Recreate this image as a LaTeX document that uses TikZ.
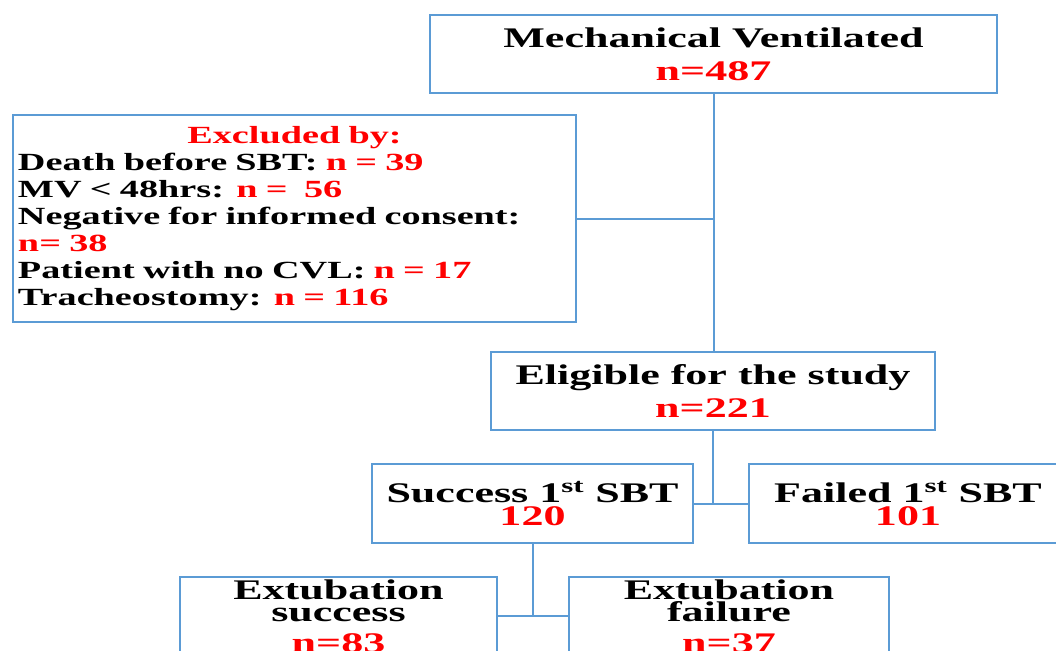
\documentclass[tikz,border=0pt]{standalone}
\usepackage{fontspec}
\setmainfont{Liberation Serif}[FakeStretch=1.55]
\usepackage{xcolor}
\usetikzlibrary{positioning}
\definecolor{lineblue}{RGB}{91,155,213}
\newcommand{\rd}[1]{\textcolor{red}{#1}}

\begin{document}
\begin{tikzpicture}[x=0.75pt,y=-0.75pt,
    box/.style={draw=lineblue,line width=1.5pt,align=center,inner sep=0pt},
    big/.style={font=\fontsize{21.3}{24.75}\selectfont\bfseries},
    mid/.style={font=\fontsize{21.3}{17}\selectfont\bfseries},
    small/.style={font=\fontsize{18.5}{20.25}\selectfont\bfseries},
    link/.style={draw=lineblue,line width=1.5pt}]
  \clip (0,0) rectangle (1056,650);
  \node[box,big,minimum width=425.25pt,minimum height=58.5pt] (mv) at (713.5,54)
    {Mechanical Ventilated\\ \rd{n=487}};
  \node[box,small,minimum width=422.25pt,minimum height=155.25pt,
    text width=414.75pt,align=left] (excl) at (294.5,218.5)
    {\makebox[\linewidth]{\rd{Excluded by:}}\\
     Death before SBT: \rd{n = 39}\\
     MV < 48hrs: \rd{n =\ \ 56}\\
     Negative for informed consent:\\
     \rd{n= 38}\\
     Patient with no CVL: \rd{n = 17}\\
     Tracheostomy: \rd{n = 116}};
  \node[box,big,minimum width=333pt,minimum height=58.5pt] (elig) at (713,391)
    {Eligible for the study\\ \rd{n=221}};
  \node[box,mid,minimum width=240.75pt,minimum height=59.25pt] (succ) at (532.5,503.5)
    {Success 1\textsuperscript{st} SBT\\ \rd{120}};
  \node[box,mid,minimum width=238.5pt,minimum height=59.25pt,right=40.5pt of succ] (fail)
    {Failed 1\textsuperscript{st} SBT\\ \rd{101}};
  \node[box,mid,minimum width=237.75pt,minimum height=58.5pt] (exs) at (338.5,616)
    {Extubation\\ success\\[6pt] \rd{n=83}};
  \node[box,mid,minimum width=240pt,minimum height=58.5pt,right=52.5pt of exs] (exf)
    {Extubation\\ failure\\[6pt] \rd{n=37}};
  % connectors
  \draw[link] (mv.south) -- (mv.south |- elig.north);
  \draw[link] (excl.east) -- (excl.east -| mv.south);
  \draw[link] (elig.south) -- (elig.south |- succ.east);
  \draw[link] (succ.east) -- (fail.west);
  \draw[link] (succ.south) -- (succ.south |- exs.east);
  \draw[link] (exs.east) -- (exf.west);
\end{tikzpicture}
\end{document}
